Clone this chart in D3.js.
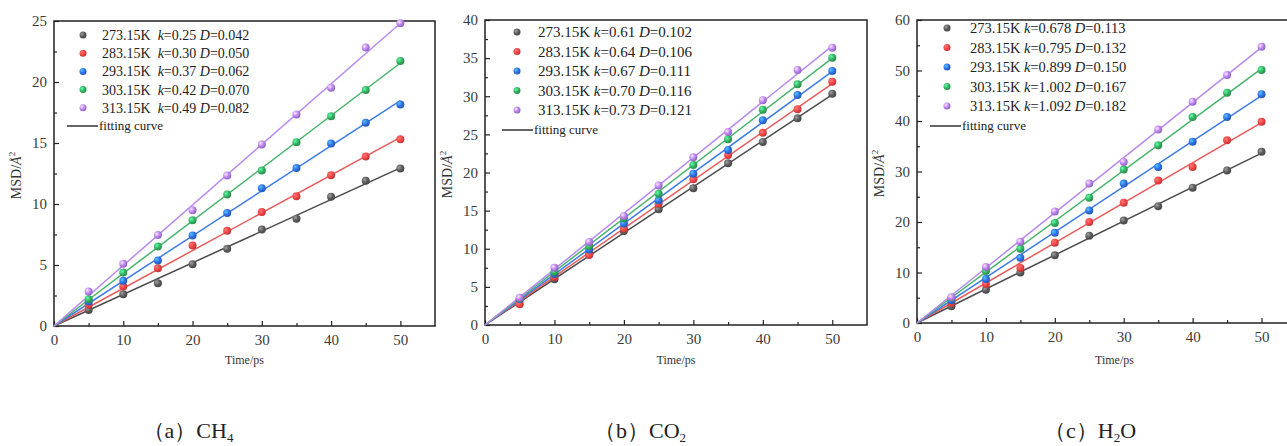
<!DOCTYPE html>
<html>
<head>
<meta charset="utf-8">
<script src="https://cdn.jsdelivr.net/npm/d3@7"></script>
<style>
  body { margin: 0; background: #fff; }
  svg { display: block; font-family: "Liberation Serif", "DejaVu Serif", serif; }
  .tick line { stroke: #222; stroke-width: 1.2; }
</style>
</head>
<body>
<svg id="chart" width="1287" height="446"></svg>
<script>
(function() {

  // shared x positions (ps)
  var times = [5, 10, 15, 20, 25, 30, 35, 40, 45, 50];
  var temps = ["273.15K", "283.15K", "293.15K", "303.15K", "313.15K"];
  var fitLabel = "fitting curve";

  // (a) CH4
  var kA = [0.25, 0.30, 0.37, 0.42, 0.49];
  var dA = [0.042, 0.050, 0.062, 0.070, 0.082];
  var msdA = [
    [1.32, 2.60, 3.50, 5.07, 6.33, 7.90, 8.80, 10.60, 11.90, 12.90],
    [1.75, 3.23, 4.74, 6.60, 7.80, 9.34, 10.63, 12.36, 13.90, 15.30],
    [2.00, 3.70, 5.37, 7.42, 9.26, 11.30, 12.96, 14.96, 16.66, 18.16],
    [2.20, 4.38, 6.52, 8.66, 10.77, 12.74, 15.07, 17.20, 19.34, 21.73],
    [2.82, 5.10, 7.45, 9.48, 12.33, 14.88, 17.34, 19.53, 22.82, 24.82]
  ];

  // (b) CO2
  var kB = [0.61, 0.64, 0.67, 0.70, 0.73];
  var dB = [0.102, 0.106, 0.111, 0.116, 0.121];
  var msdB = [
    [3.30, 6.00, 9.30, 12.33, 15.17, 17.92, 21.20, 24.00, 27.10, 30.34],
    [2.71, 6.30, 9.18, 12.63, 15.90, 19.10, 22.30, 25.20, 28.30, 31.90],
    [3.40, 6.70, 9.90, 13.30, 16.35, 19.85, 22.95, 26.84, 30.16, 33.30],
    [3.50, 7.00, 10.36, 14.00, 17.22, 20.98, 24.35, 28.24, 31.56, 35.06],
    [3.58, 7.52, 10.90, 14.30, 18.30, 22.00, 25.30, 29.46, 33.44, 36.37]
  ];

  // (c) H2O
  var kC = [0.678, 0.795, 0.899, 1.002, 1.092];
  var dC = [0.113, 0.132, 0.150, 0.167, 0.182];
  var msdC = [
    [3.30, 6.60, 10.00, 13.40, 17.30, 20.30, 23.10, 26.80, 30.20, 33.90],
    [3.97, 7.70, 10.90, 15.90, 20.00, 23.80, 28.20, 30.90, 36.20, 39.85],
    [4.50, 8.70, 12.90, 17.85, 22.30, 27.60, 30.90, 35.90, 40.80, 45.30],
    [5.00, 10.30, 14.70, 19.80, 24.80, 30.40, 35.20, 40.80, 45.60, 50.10],
    [5.10, 11.10, 16.10, 22.10, 27.60, 31.90, 38.30, 43.80, 49.10, 54.70]
  ];

  var dotColors = ["#5a5a5a", "#ee4444", "#2f6fe4", "#35b060", "#b681ec"];
  var lineColors = ["#4a4a4a", "#e85a5a", "#3d7ce6", "#45b46a", "#b889f0"];

  var panels = [
    { id: "a", k: kA, D: dA, msd: msdA, kFmt: ".2f", yMax: 25, yStep: 5,
      left: 54, right: 435, top: 21, bottom: 326,
      legX: 83, legY: 35, legDy: 18.2, legTx: 102, legFont: 14, gap: "\u2002",
      fitY: 126, fitX0: 67, fitX1: 98,
      cap: ["\uff08a\uff09CH", "4", ""], capX: 188 },
    { id: "b", k: kB, D: dB, msd: msdB, kFmt: ".2f", yMax: 40, yStep: 5,
      left: 485, right: 867, top: 20, bottom: 325,
      legX: 517, legY: 32, legDy: 19.5, legTx: 538, legFont: 15, gap: " ",
      fitY: 130, fitX0: 502, fitX1: 533,
      cap: ["\uff08b\uff09CO", "2", ""], capX: 640 },
    { id: "c", k: kC, D: dC, msd: msdC, kFmt: ".3f", yMax: 60, yStep: 10,
      left: 917, right: 1296, top: 20, bottom: 323,
      legX: 947, legY: 28, legDy: 19.5, legTx: 970, legFont: 14.5, gap: " ",
      fitY: 126, fitX0: 930, fitX1: 961,
      cap: ["\uff08c\uff09H", "2", "O"], capX: 1090 }
  ];

  var svg = d3.select("#chart");
  var defs = svg.append("defs");

  dotColors.forEach(function(c, i) {
    var g = defs.append("radialGradient")
        .attr("id", "ball" + i)
        .attr("cx", "35%").attr("cy", "35%").attr("r", "65%");
    g.append("stop").attr("offset", "0%").attr("stop-color", d3.color(c).brighter(1.6));
    g.append("stop").attr("offset", "60%").attr("stop-color", c);
    g.append("stop").attr("offset", "100%").attr("stop-color", d3.color(c).darker(0.6));
  });

  panels.forEach(drawPanel);

  // least-squares slope through the origin
  function fitSlope(series) {
    var sxy = d3.sum(series, function(v, j) { return v * times[j]; });
    var sxx = d3.sum(times, function(t) { return t * t; });
    return sxy / sxx;
  }

  function cleanAxis(s) {
    s.select(".domain").remove();
    s.attr("font-family", null).attr("font-size", null);
    s.selectAll(".tick text")
        .style("font-family", "'Liberation Serif', serif")
        .style("font-size", "15px")
        .attr("fill", "#3a3a3a");
  }

  function drawPanel(p) {
    var x = d3.scaleLinear().domain([0, 55]).range([p.left, p.right]);
    var y = d3.scaleLinear().domain([0, p.yMax]).range([p.bottom, p.top]);
    var g = svg.append("g").attr("class", "panel-" + p.id);

    // minor ticks
    g.append("g")
        .attr("transform", "translate(0," + p.bottom + ")")
        .call(d3.axisBottom(x).tickValues(d3.range(5, 55, 10)).tickSize(-3).tickFormat(""))
        .call(cleanAxis);
    g.append("g")
        .attr("transform", "translate(" + p.left + ",0)")
        .call(d3.axisLeft(y).tickValues(d3.range(p.yStep / 2, p.yMax, p.yStep)).tickSize(-3).tickFormat(""))
        .call(cleanAxis);

    // major ticks
    g.append("g")
        .attr("transform", "translate(0," + p.bottom + ")")
        .call(d3.axisBottom(x).tickValues(d3.range(0, 51, 10)).tickSize(-5).tickPadding(8))
        .call(cleanAxis);
    g.append("g")
        .attr("transform", "translate(" + p.left + ",0)")
        .call(d3.axisLeft(y).tickValues(d3.range(0, p.yMax + 0.1, p.yStep)).tickSize(-5).tickPadding(7))
        .call(cleanAxis);

    // frame
    g.append("rect")
        .attr("x", p.left).attr("y", p.top)
        .attr("width", p.right - p.left).attr("height", p.bottom - p.top)
        .attr("fill", "none").attr("stroke", "#222").attr("stroke-width", 1.5);

    // fitting lines
    g.selectAll(".fit")
        .data(p.msd.map(fitSlope))
      .enter().append("line")
        .attr("class", "fit")
        .attr("x1", x(0)).attr("y1", y(0))
        .attr("x2", x(50)).attr("y2", function(s) { return y(s * 50); })
        .attr("stroke", function(s, i) { return lineColors[i]; })
        .attr("stroke-width", 1.5);

    // points
    p.msd.forEach(function(series, i) {
      g.append("g").selectAll("circle")
          .data(series)
        .enter().append("circle")
          .attr("cx", function(v, j) { return x(times[j]); })
          .attr("cy", function(v) { return y(v); })
          .attr("r", 4)
          .attr("fill", "url(#ball" + i + ")");
    });

    // axis titles
    g.append("text")
        .attr("x", (p.left + Math.min(p.right, 1296)) / 2 + (p.id == "c" ? 8 : 0))
        .attr("y", 364)
        .attr("text-anchor", "middle")
        .style("font-size", "12px")
        .attr("fill", "#333")
        .text("Time/ps");

    var yt = g.append("text")
        .attr("transform", "translate(" + (p.left - 33) + "," + ((p.top + p.bottom) / 2 + 2) + ") rotate(-90)")
        .attr("text-anchor", "middle")
        .style("font-size", "14px")
        .attr("fill", "#333");
    yt.append("tspan").text("MSD/");
    yt.append("tspan").style("font-style", "italic").text("\u00c5");
    yt.append("tspan").attr("dy", -6).style("font-size", "9px").text("2");

    // legend
    var fk = d3.format(p.kFmt), fd = d3.format(".3f");
    var leg = g.append("g").attr("class", "legend");
    temps.forEach(function(t, i) {
      var ly = p.legY + i * p.legDy;
      leg.append("circle")
          .attr("cx", p.legX).attr("cy", ly).attr("r", 3.5)
          .attr("fill", "url(#ball" + i + ")");
      var tx = leg.append("text")
          .attr("x", p.legTx).attr("y", ly + 5)
          .style("font-size", p.legFont + "px")
          .attr("fill", "#222");
      tx.append("tspan").text(t + p.gap);
      tx.append("tspan").style("font-style", "italic").text("k");
      tx.append("tspan").text("=" + fk(p.k[i]) + " ");
      tx.append("tspan").style("font-style", "italic").text("D");
      tx.append("tspan").text("=" + fd(p.D[i]));
    });
    leg.append("line")
        .attr("x1", p.fitX0).attr("x2", p.fitX1)
        .attr("y1", p.fitY).attr("y2", p.fitY)
        .attr("stroke", "#333").attr("stroke-width", 1.5);
    leg.append("text")
        .attr("x", p.fitX1 + 1).attr("y", p.fitY + 4)
        .style("font-size", "13px")
        .attr("fill", "#222")
        .text(fitLabel);

    // caption
    var cap = svg.append("text")
        .attr("x", p.capX).attr("y", 438)
        .attr("text-anchor", "middle")
        .style("font-size", "22px")
        .attr("fill", "#222");
    cap.append("tspan").text(p.cap[0]);
    cap.append("tspan").attr("dy", 4).style("font-size", "13px").text(p.cap[1]);
    cap.append("tspan").attr("dy", -4).text(p.cap[2]);
  }

})();
</script>
</body>
</html>
